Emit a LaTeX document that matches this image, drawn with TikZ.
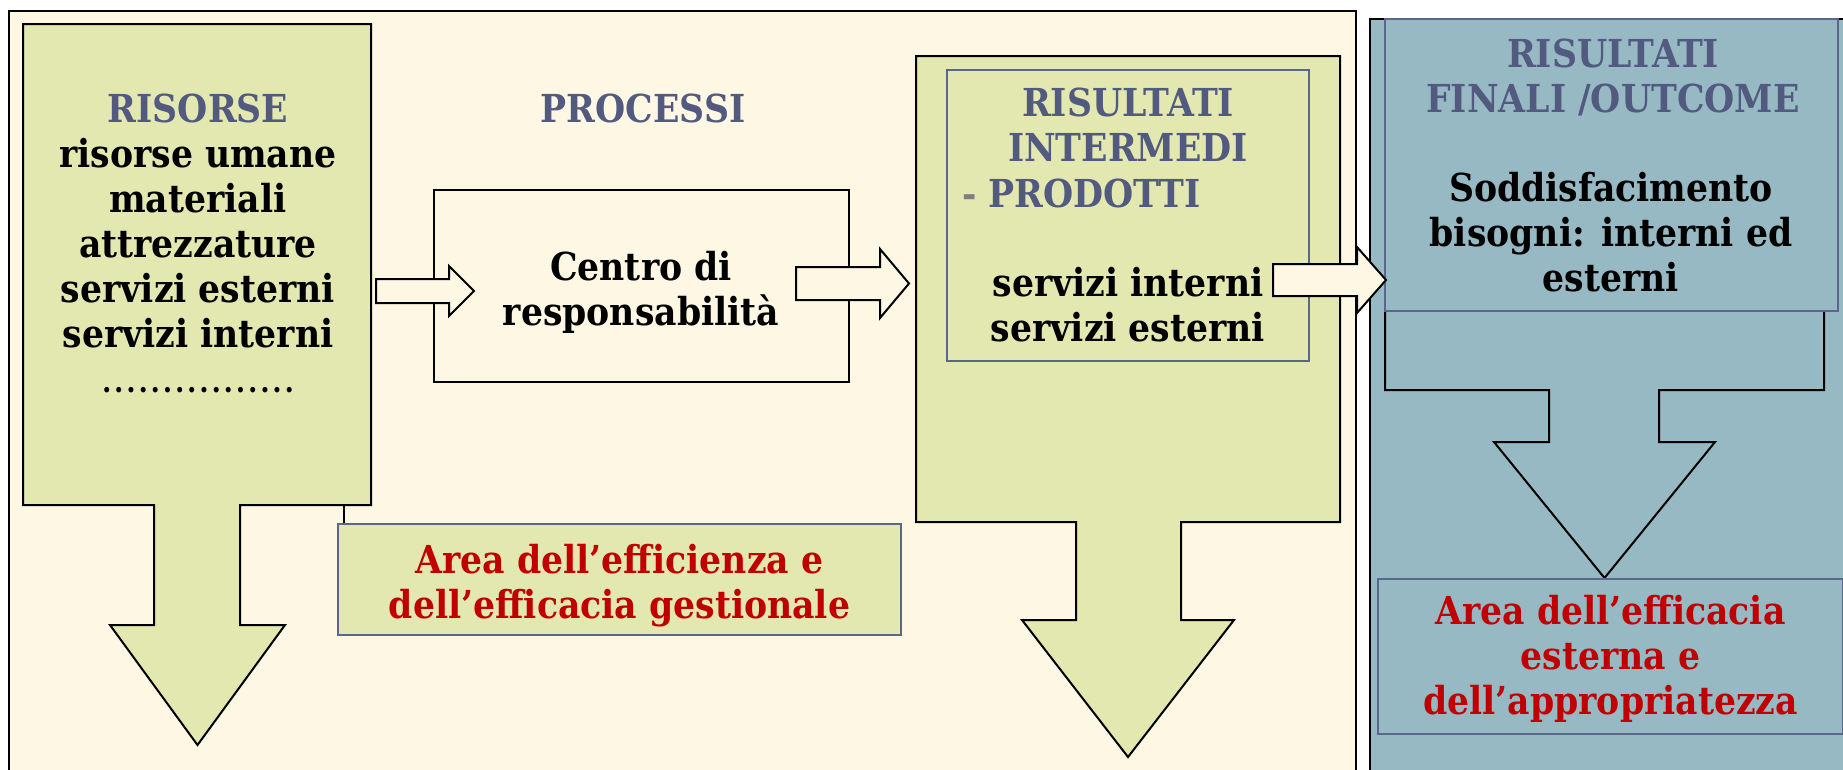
\documentclass[tikz,border=0pt]{standalone}
\usepackage{fontspec}
\setmainfont{DejaVu Serif Condensed}
\usetikzlibrary{positioning}
\definecolor{creamback}{RGB}{254,247,228}
\definecolor{greenfill}{RGB}{227,232,177}
\definecolor{bluefill}{RGB}{150,185,195}
\definecolor{slatetext}{RGB}{82,90,128}
\definecolor{slateline}{RGB}{92,102,140}
\definecolor{areared}{RGB}{192,0,0}
\tikzset{
        textnode/.style={align=center,inner sep=0pt,font=\fontsize{38.5}{45}\selectfont\bfseries},
        % Titles of the columns
        text_title/.style={textnode, text=slatetext},
        % Black content text
        text_body/.style={textnode, text=black},
        % Red area labels
        text_area/.style={textnode, text=areared},
        % Boxes with slate border
        box_slate/.style={rectangle, draw=slateline, line width=1.5pt, inner sep=0pt},
        % Big block arrows pointing down
        arrow_down/.style={draw=black, line width=2pt, line join=miter},
        % Small block arrows pointing right
        arrow_right/.style={draw=black, fill=creamback, line width=2pt, line join=miter}
}
\begin{document}
\begin{tikzpicture}[
            x=1pt, y=-1pt,
            panel/.style={draw=black, line width=1.5pt}
        ]
            \useasboundingbox (0,0) rectangle (1843,769);
            % panels
            \draw[panel, fill=creamback] (9,11) rectangle (1356,800);
            \draw[panel, fill=bluefill] (1370,19) rectangle (1870,800);
            % big arrows
            \draw[arrow_down, fill=greenfill] (23,24) -- (371,24) -- (371,505) -- (240,505) -- (240,625) -- (285,625)
                -- (197.5,745) -- (110,625) -- (154,625) -- (154,505) -- (23,505) -- cycle;
            \draw[arrow_down, fill=greenfill] (916,56) -- (1340,56) -- (1340,522) -- (1181,522) -- (1181,620) -- (1234,620)
                -- (1128,757) -- (1022,620) -- (1076,620) -- (1076,522) -- (916,522) -- cycle;
            \draw[arrow_down, fill=bluefill] (1385,22) -- (1824,22) -- (1824,390) -- (1659,390) -- (1659,442) -- (1715,442)
                -- (1604.5,578) -- (1494,442) -- (1549,442) -- (1549,390) -- (1385,390) -- cycle;
            % boxes
            \node[box_slate, minimum width=362, minimum height=291] (intermedi_box) at (1128,215.5) {};
            \node[box_slate, fill=bluefill, minimum width=453, minimum height=292] (finali_box) at (1611.5,165) {};
            \node[rectangle, draw=black, fill=creamback, line width=2pt, minimum width=415, minimum height=192]
                (centro_box) at (641.5,286) {};
            \node[box_slate, fill=greenfill, minimum width=563, minimum height=111] (area_gestionale) at (619.5,579.5) {};
            \node[box_slate, fill=bluefill, minimum width=465, minimum height=155] (area_esterna) at (1610.5,656.5) {};
            \coordinate (risorse_foot) at (344,505);
            \draw[line width=1.5pt] (risorse_foot) -- (area_gestionale.north -| risorse_foot);
            % small arrows
            \draw[arrow_right] (376,279) -- (449,279) -- (449,266) -- (474,291) -- (449,316) -- (449,303) -- (376,303) -- cycle;
            \draw[arrow_right] (796,267) -- (880,267) -- (880,249) -- (909,283.5) -- (880,318) -- (880,300) -- (796,300) -- cycle;
            \draw[arrow_right] (1273,264) -- (1357,264) -- (1357,247) -- (1386,280) -- (1357,313) -- (1357,296) -- (1273,296) -- cycle;
            % texts
            \node[text_body, anchor=north] (risorse_text) at (198,94)
                {\textcolor{slatetext}{RISORSE}\\risorse umane\\materiali\\attrezzature\\servizi esterni\\servizi interni\\
                {\fontsize{30}{45}\selectfont\makebox[192pt]{.\hfill.\hfill.\hfill.\hfill.\hfill.\hfill.\hfill.\hfill.\hfill.\hfill.\hfill.\hfill.\hfill.\hfill.\hfill.}}};
            \node[text_title] (processi_title) at (643,108) {PROCESSI};
            \node[text_body] (centro_text) at (641,292) {Centro di\\responsabilità};
            \node[text_title] (intermedi_title) at (1128,125) {RISULTATI\\INTERMEDI};
            \node[text_title, anchor=west] (prodotti_title) at (962,193) {\textcolor{gray}{-} PRODOTTI};
            \node[text_body] (intermedi_text) at (1128,305) {servizi interni\\servizi esterni};
            \node[text_title] (finali_title) at (1613,77) {RISULTATI\\FINALI /OUTCOME};
            \node[text_body] (finali_text) at (1611,232) {Soddisfacimento\\bisogni: interni ed\\esterni};
            \node[text_area] (area_gestionale_text) at (619.5,586) {Area dell’efficienza e\\dell’efficacia gestionale};
            \node[text_area] (area_esterna_text) at (1610.5,659) {Area dell’efficacia\\esterna e\\dell’appropriatezza};
        \end{tikzpicture}
\end{document}
